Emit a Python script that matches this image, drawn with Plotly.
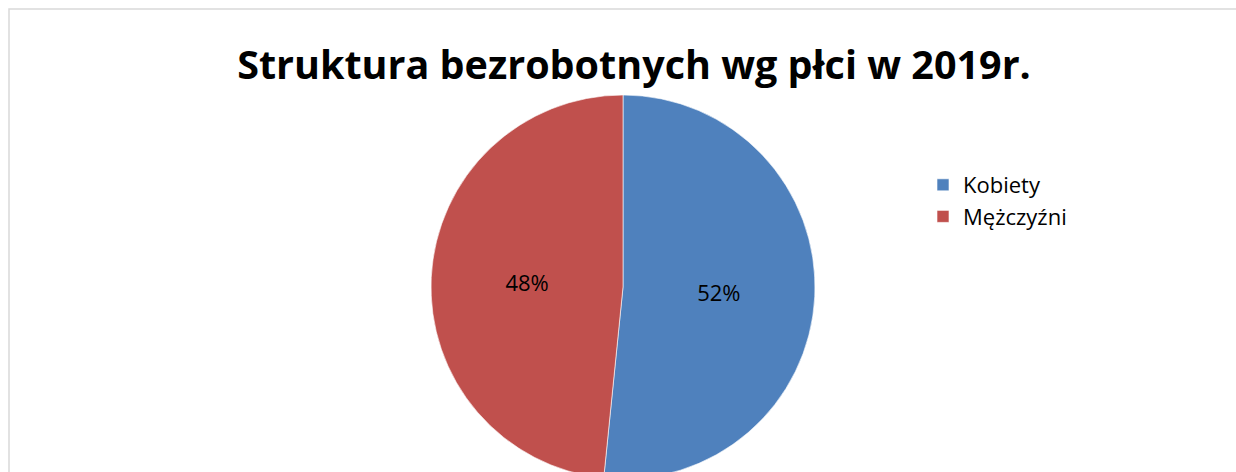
import plotly.graph_objects as go

title_text = "Struktura bezrobotnych wg płci w 2019r."
labels = ["Kobiety", "Mężczyźni"]
values = [51.6, 48.4]
colors = ["#4F81BD", "#C0504D"]

W, H = 1236, 479
cx, r = 623, 192
top = 95

fig = go.Figure(
    go.Pie(
        labels=labels,
        values=values,
        sort=False,
        direction="clockwise",
        rotation=0,
        marker=dict(colors=colors, line=dict(color="#FFFFFF", width=0.6)),
        textinfo="percent",
        texttemplate="%{percent:.0%}",
        textposition="inside",
        insidetextorientation="horizontal",
        textfont=dict(family="Open Sans", size=22, color="#000000"),
        domain=dict(x=[(cx - r) / W, (cx + r) / W], y=[0, 1]),
        hoverinfo="label+percent",
    )
)

fig.update_layout(
    width=W,
    height=H,
    margin=dict(l=0, r=0, t=top, b=0),
    paper_bgcolor="#FFFFFF",
    plot_bgcolor="#FFFFFF",
    title=dict(
        text=title_text,
        font=dict(family="Open Sans", size=39.5, color="#000000", weight="bold"),
        x=634 / W,
        xanchor="center",
        xref="paper",
        y=1 - 65 / H,
        yanchor="middle",
        yref="container",
    ),
    legend=dict(
        x=923 / W,
        xanchor="left",
        y=(H - 164) / (H - top),
        yanchor="top",
        font=dict(family="Open Sans", size=22, color="#000000"),
        bgcolor="rgba(0,0,0,0)",
        itemwidth=30,
    ),
    shapes=[
        dict(
            type="rect",
            xref="paper",
            yref="paper",
            x0=9 / W,
            x1=1.05,
            y0=-0.2,
            y1=(H - 9) / (H - top),
            line=dict(color="#D9D9D9", width=1.5),
            fillcolor="rgba(0,0,0,0)",
            layer="below",
        )
    ],
)

fig.write_html(
    "out.html",
    config={"displayModeBar": False},
    post_script="document.body.style.margin='0';document.body.style.overflow='hidden';document.documentElement.style.overflow='hidden';",
)
